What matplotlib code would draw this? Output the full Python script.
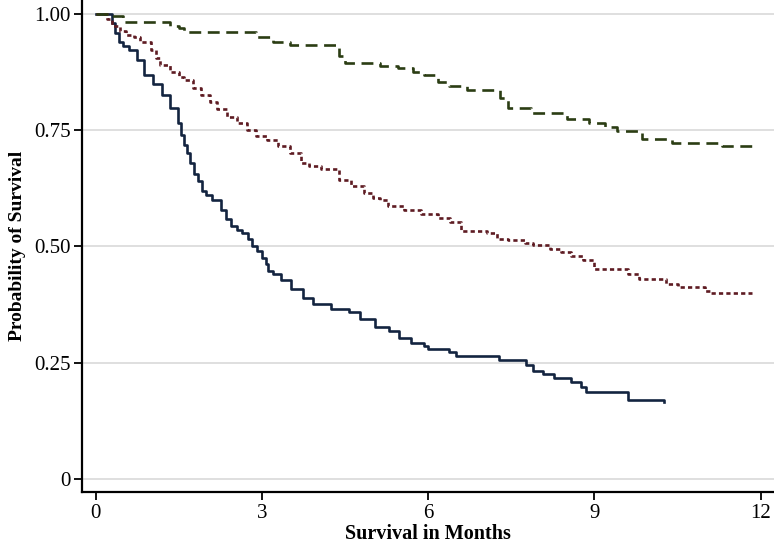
import matplotlib
matplotlib.use("Agg")
import matplotlib.pyplot as plt

# Kaplan-Meier style step data (time in months, survival after each step)
t_low = [0, 0.3, 0.36, 0.42, 0.5, 0.6, 0.74, 0.87, 1.03, 1.2, 1.35, 1.48, 1.55,
         1.6, 1.65, 1.7, 1.77, 1.84, 1.93, 2.0, 2.1, 2.26, 2.35, 2.44, 2.55, 2.65,
         2.75, 2.83, 2.92, 3.0, 3.07, 3.12, 3.2, 3.34, 3.52, 3.74, 3.93, 4.24, 4.57,
         4.78, 5.05, 5.29, 5.47, 5.7, 5.92, 6.0, 6.37, 6.5, 7.27, 7.77, 7.9, 8.07,
         8.27, 8.57, 8.75, 8.85, 9.6, 10.25]
s_low = [1.0, 0.98, 0.96, 0.94, 0.93, 0.922, 0.90, 0.868, 0.85, 0.825, 0.797, 0.765,
         0.74, 0.718, 0.70, 0.68, 0.655, 0.64, 0.62, 0.61, 0.60, 0.578, 0.56, 0.545,
         0.535, 0.528, 0.515, 0.502, 0.49, 0.476, 0.462, 0.448, 0.44, 0.427, 0.409,
         0.39, 0.377, 0.366, 0.358, 0.345, 0.327, 0.319, 0.304, 0.293, 0.286, 0.28,
         0.272, 0.265, 0.256, 0.245, 0.233, 0.226, 0.217, 0.209, 0.198, 0.186, 0.17,
         0.165]

t_mid = [0, 0.2, 0.3, 0.45, 0.55, 0.69, 0.8, 1.0, 1.1, 1.17, 1.35, 1.5, 1.6, 1.75,
         1.9, 2.07, 2.2, 2.38, 2.55, 2.74, 2.9, 3.1, 3.3, 3.5, 3.7, 3.85, 4.06, 4.4,
         4.6, 4.84, 5.0, 5.14, 5.27, 5.56, 5.87, 6.17, 6.4, 6.6, 7.07, 7.25, 7.44,
         7.75, 7.9, 8.2, 8.4, 8.57, 8.8, 9.0, 9.6, 9.8, 10.3, 10.5, 11.0, 11.1, 11.85]
s_mid = [1.0, 0.99, 0.975, 0.963, 0.955, 0.95, 0.94, 0.922, 0.905, 0.89, 0.875, 0.865,
         0.857, 0.84, 0.825, 0.81, 0.795, 0.778, 0.765, 0.75, 0.738, 0.728, 0.715,
         0.70, 0.68, 0.672, 0.667, 0.642, 0.63, 0.616, 0.605, 0.599, 0.586, 0.578,
         0.569, 0.562, 0.553, 0.533, 0.529, 0.517, 0.514, 0.508, 0.503, 0.495, 0.489,
         0.48, 0.47, 0.452, 0.44, 0.43, 0.42, 0.412, 0.405, 0.40, 0.40]

t_high = [0, 0.3, 0.5, 1.35, 1.5, 1.6, 2.9, 3.2, 3.5, 4.4, 4.5, 5.14, 5.45, 5.72,
          5.92, 6.17, 6.37, 6.7, 7.3, 7.45, 7.85, 8.5, 8.9, 9.2, 9.4, 9.85, 10.4,
          11.3, 11.85]
s_high = [1.0, 0.995, 0.983, 0.975, 0.97, 0.962, 0.951, 0.94, 0.933, 0.91, 0.894,
          0.888, 0.883, 0.876, 0.869, 0.854, 0.845, 0.836, 0.82, 0.798, 0.786, 0.775,
          0.765, 0.757, 0.749, 0.73, 0.723, 0.716, 0.713]

x_ticks = [0, 3, 6, 9, 12]
y_ticks = [0, 0.25, 0.5, 0.75, 1.0]
y_labels = ["0", "0.25", "0.50", "0.75", "1.00"]

plt.rcParams['font.family'] = ['Liberation Serif', 'DejaVu Serif']

fig = plt.figure(figsize=(7.74, 5.46), dpi=100)
ax = fig.add_axes([0.1055, 0.099, 0.8945, 0.901])

ax.plot(t_low, s_low, drawstyle="steps-post", color="#132440", lw=1.9)
ax.plot(t_mid, s_mid, drawstyle="steps-post", color="#5e1b22", lw=1.9,
        linestyle=(0, (1.6, 1.2)))
ax.plot(t_high, s_high, drawstyle="steps-post", color="#2b3d13", lw=1.9,
        linestyle=(0, (4.5, 2.5)))

ax.set_xlim(-0.25, 12.24)
ax.set_ylim(-0.028, 1.03)
ax.set_xticks(x_ticks)
ax.set_yticks(y_ticks)
ax.set_yticklabels(y_labels)
ax.yaxis.grid(True, color="#dcdcdc", lw=1.3)
ax.set_axisbelow(True)

for side in ["top", "right"]:
    ax.spines[side].set_visible(False)
for side in ["left", "bottom"]:
    ax.spines[side].set_linewidth(1.6)

ax.tick_params(axis="both", labelsize=15, width=1.3, length=6, direction="out")
ax.tick_params(axis="y", pad=2)
ax.tick_params(axis="x", pad=3)
ax.set_xlabel("Survival in Months", fontsize=14.5, fontweight="bold", labelpad=0.5)
ax.set_ylabel("Probability of Survival", fontsize=14, fontweight="bold", labelpad=6)

fig.savefig("out.png", dpi=100)
